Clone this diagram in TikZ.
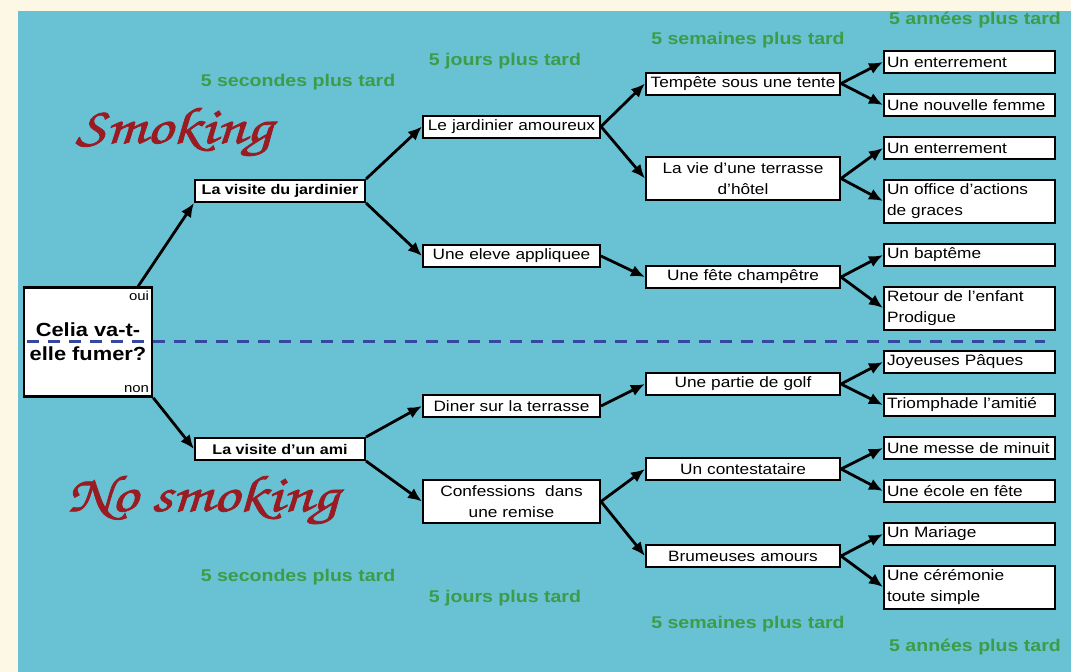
\documentclass[tikz,border=0pt]{standalone}
\usepackage{fontspec}
\setmainfont{Liberation Sans}[FakeStretch=1.15]
\newfontfamily\chorus{texgyrechorus-mediumitalic.otf}[FakeStretch=1.25, FakeBold=1.5]
\usetikzlibrary{arrows.meta}

\definecolor{cream}{HTML}{FDF8E6}
\definecolor{lagoon}{HTML}{69C2D4}
\definecolor{delaygreen}{HTML}{3C9C48}
\definecolor{smokered}{HTML}{9A1C22}
\definecolor{splitblue}{HTML}{3448A0}

\tikzset{
  evt/.style={draw, line width=2pt, fill=white, inner xsep=3pt, inner ysep=0pt,
    minimum height=22pt, font=\fontsize{15}{21}\selectfont, align=center},
  twoline/.style={minimum height=43pt},
  first/.style={evt, minimum width=170pt, font=\bfseries\fontsize{14}{21}\selectfont},
  second/.style={evt, text width=171pt},
  third/.style={evt, text width=188pt},
  leaf/.style={evt, text width=165pt, align=left},
  delay/.style={text=delaygreen, font=\bfseries\fontsize{17}{20}\selectfont},
  motto/.style={text=smokered, font=\chorus\fontsize{52}{52}\selectfont},
  branch/.style={-{Latex[length=14pt,width=12pt]}, line width=2.8pt},
  corner/.style={inner xsep=4pt, inner ysep=5pt, font=\fontsize{13}{14}\selectfont},
}

\begin{document}
\begin{tikzpicture}[x=1pt,y=-1pt]
  \useasboundingbox (0,0) rectangle (1071,672);
  \fill[cream] (0,0) rectangle (1071,672);
  \fill[lagoon] (18,11) rectangle (1071,672);

  % time labels
  \node[delay] (sec1) at (298,82) {5 secondes plus tard};
  \node[delay] (day1) at (505,61) {5 jours plus tard};
  \node[delay] (wk1) at (748,40) {5 semaines plus tard};
  \node[delay] (yr1) at (975,20) {5 années plus tard};
  \node[delay] (sec2) at (298,577) {5 secondes plus tard};
  \node[delay] (day2) at (505,598) {5 jours plus tard};
  \node[delay] (wk2) at (748,624) {5 semaines plus tard};
  \node[delay] (yr2) at (975,647) {5 années plus tard};

  \node[motto] (smk) at (174,132) {Smoking};
  \node[motto] (nsmk) at (203,500) {No smoking};

  % question
  \node[draw, line width=2.5pt, fill=white, minimum width=128pt, minimum height=109pt,
    align=center, font=\bfseries\fontsize{19}{24}\selectfont] (root) at (88,342) {Celia va-t-\\elle fumer?};
  \node[corner, anchor=north east] (oui) at (root.north east) {oui};
  \node[corner, anchor=south east] (non) at (root.south east) {non};
  \draw[splitblue, line width=3pt, dash pattern=on 12pt off 9pt] (27,341) -- (1045,341);

  % first day
  \node[first] (lvj) at (280,191) {La visite du jardinier};
  \node[first] (lva) at (280,449) {La visite d'un ami};

  % five days
  \node[second] (lja) at (511.5,126.5) {Le jardinier amoureux};
  \node[second] (uea) at (511.5,256) {Une eleve appliquee};
  \node[second] (dst) at (511.5,406) {Diner sur la terrasse};
  \node[second, twoline] (cdr) at (511.5,501.5) {Confessions~ dans\\une remise};

  % five weeks
  \node[third] (tst) at (743,83.5) {Tempête sous une tente};
  \node[third, twoline] (lvt) at (743,178.5) {La vie d'une terrasse\\d'hôtel};
  \node[third] (ufc) at (743,277) {Une fête champêtre};
  \node[third] (upg) at (743,384) {Une partie de golf};
  \node[third] (uct) at (743,469) {Un contestataire};
  \node[third] (bam) at (743,556) {Brumeuses amours};

  % five years
  \node[leaf] (ue1) at (969.5,62) {Un enterrement};
  \node[leaf] (unf) at (969.5,105) {Une nouvelle femme};
  \node[leaf] (ue2) at (969.5,148) {Un enterrement};
  \node[leaf, twoline] (uoa) at (969.5,201) {Un office d'actions\\de graces};
  \node[leaf] (ubp) at (969.5,255) {Un baptême};
  \node[leaf, twoline] (rep) at (969.5,308) {Retour de l'enfant\\Prodigue};
  \node[leaf] (jpq) at (969.5,362) {Joyeuses Pâques};
  \node[leaf] (tda) at (969.5,405) {Triomphade l'amitié};
  \node[leaf] (umm) at (969.5,448) {Une messe de minuit};
  \node[leaf] (uef) at (969.5,491) {Une école en fête};
  \node[leaf] (uma) at (969.5,534) {Un Mariage};
  \node[leaf, twoline] (ucr) at (969.5,587) {Une cérémonie\\toute simple};

  % branches
  \draw[branch] (root.48) -- (lvj.south west);
  \draw[branch] (root.south east) -- (lva.west);
  \draw[branch] (lvj.north east) -- (lja.west);
  \draw[branch] (lvj.south east) -- (uea.west);
  \draw[branch] (lva.north east) -- (dst.west);
  \draw[branch] (lva.south east) -- (cdr.west);
  \draw[branch] (lja.east) -- (tst.west);
  \draw[branch] (lja.east) -- (lvt.west);
  \draw[branch] (uea.east) -- (ufc.west);
  \draw[branch] (dst.east) -- (upg.west);
  \draw[branch] (cdr.east) -- (uct.west);
  \draw[branch] (cdr.east) -- (bam.west);
  \draw[branch] (tst.east) -- (ue1.west);
  \draw[branch] (tst.east) -- (unf.west);
  \draw[branch] (lvt.east) -- (ue2.west);
  \draw[branch] (lvt.east) -- (uoa.west);
  \draw[branch] (ufc.east) -- (ubp.west);
  \draw[branch] (ufc.east) -- (rep.west);
  \draw[branch] (upg.east) -- (jpq.west);
  \draw[branch] (upg.east) -- (tda.west);
  \draw[branch] (uct.east) -- (umm.west);
  \draw[branch] (uct.east) -- (uef.west);
  \draw[branch] (bam.east) -- (uma.west);
  \draw[branch] (bam.east) -- (ucr.west);
\end{tikzpicture}
\end{document}
